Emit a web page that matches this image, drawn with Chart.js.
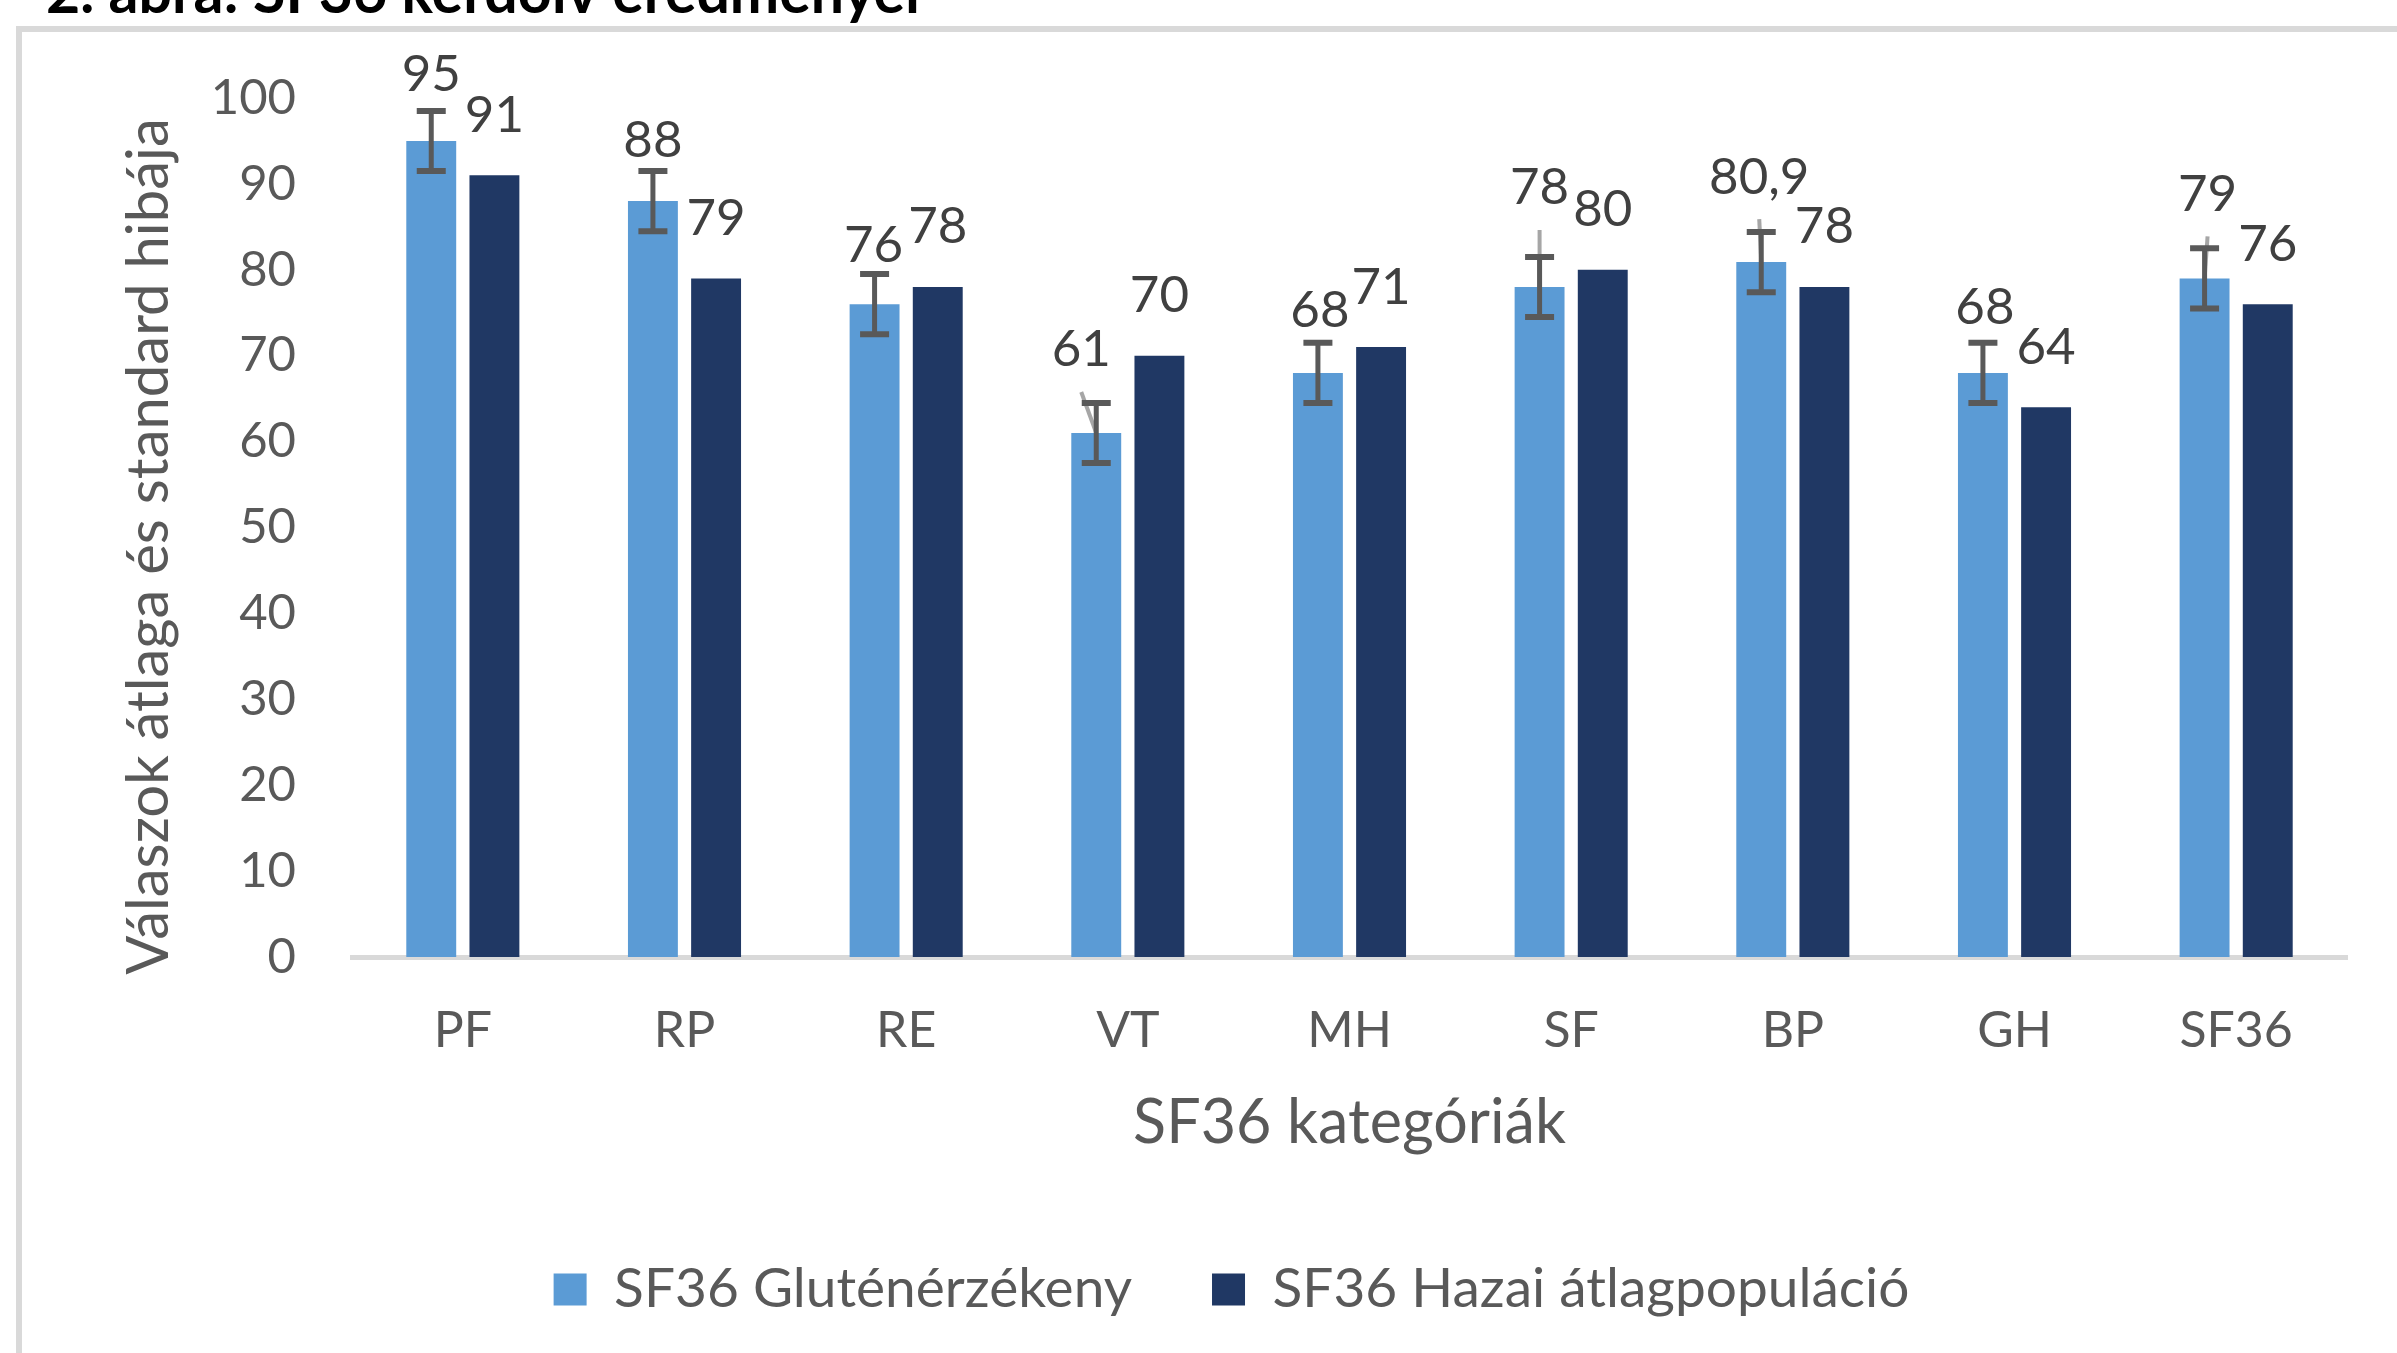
<!DOCTYPE html>
<html>
<head>
<meta charset="utf-8">
<script src="https://cdn.jsdelivr.net/npm/chart.js@4.4.0/dist/chart.umd.min.js"></script>
<style>
  html, body { margin: 0; padding: 0; background: #fff; overflow: hidden; }
  #frame { position: absolute; left: 16px; top: 26px; width: 2600px; height: 1600px;
           border-left: 6px solid #d9d9d9; border-top: 6px solid #d9d9d9; }
  #wrap { position: absolute; left: 0; top: 0; width: 2397px; height: 1353px; }
</style>
</head>
<body>
<div id="frame"></div>
<div id="wrap"><canvas id="chart" width="2397" height="1353"></canvas></div>
<script>
const categories = ['PF', 'RP', 'RE', 'VT', 'MH', 'SF', 'BP', 'GH', 'SF36'];
const seriesNames = ['SF36 Gluténérzékeny', 'SF36 Hazai átlagpopuláció'];
const glutenValues = [95, 88, 76, 61, 68, 78, 80.9, 68, 79];
const glutenErrors = [3.5, 3.5, 3.5, 3.5, 3.5, 3.5, 3.5, 3.5, 3.5];
const hazaiValues = [91, 79, 78, 70, 71, 80, 78, 64, 76];
const figureTitle = '2. ábra: SF36 kérdőív eredményei';
const yTitle = 'Válaszok átlaga és standard hibája';
const xTitle = 'SF36 kategóriák';

// hand-moved labels of the first series: [dx, dy from bar top, leader line]
const glutenLabelPos = [[0, -66], [0, -61], [-1, -59], [-15, -83, true], [2, -62],
                        [0, -99, true], [-2, -85, true], [2, -65], [3, -84, true]];

const fmt = v => String(v).replace('.', ',');

const extras = {
  id: 'extras',
  afterDatasetsDraw(chart) {
    const { ctx, scales: { y } } = chart;
    const barsA = chart.getDatasetMeta(0).data;
    const barsB = chart.getDatasetMeta(1).data;
    ctx.save();

    // leader lines
    ctx.strokeStyle = '#a6a6a6';
    ctx.lineWidth = 4;
    barsA.forEach((bar, i) => {
      const [dx, dy, lead] = glutenLabelPos[i];
      if (!lead) return;
      ctx.beginPath();
      ctx.moveTo(bar.x + dx, bar.y + dy + 42);
      ctx.lineTo(bar.x, bar.y);
      ctx.stroke();
    });

    // error bars
    ctx.strokeStyle = '#595959';
    barsA.forEach((bar, i) => {
      const top = y.getPixelForValue(glutenValues[i] + glutenErrors[i]);
      const bot = y.getPixelForValue(glutenValues[i] - glutenErrors[i]);
      ctx.lineWidth = 5;
      ctx.beginPath();
      ctx.moveTo(bar.x, top);
      ctx.lineTo(bar.x, bot);
      ctx.stroke();
      ctx.lineWidth = 6;
      ctx.beginPath();
      ctx.moveTo(bar.x - 14.5, top); ctx.lineTo(bar.x + 14.5, top);
      ctx.moveTo(bar.x - 14.5, bot); ctx.lineTo(bar.x + 14.5, bot);
      ctx.stroke();
    });

    // data labels
    ctx.font = '51px Lato';
    ctx.fillStyle = '#404040';
    ctx.textAlign = 'center';
    ctx.textBaseline = 'middle';
    barsA.forEach((bar, i) => {
      const [dx, dy] = glutenLabelPos[i];
      ctx.fillText(fmt(glutenValues[i]), bar.x + dx, bar.y + dy);
    });
    barsB.forEach((bar, i) => {
      ctx.fillText(fmt(hazaiValues[i]), bar.x, bar.y - 60);
    });
    ctx.restore();
  },
  afterDraw(chart) {
    const { ctx, chartArea } = chart;
    ctx.save();
    ctx.font = 'bold 59px Lato';
    ctx.fillStyle = '#000';
    ctx.textAlign = 'left';
    ctx.textBaseline = 'alphabetic';
    ctx.fillText(figureTitle, 46, 13);

    // y axis title, sits a little below the plot centre as in the original
    ctx.translate(149, (chartArea.top + chartArea.bottom) / 2 + 19);
    ctx.rotate(-Math.PI / 2);
    ctx.font = '58px Lato';
    ctx.fillStyle = '#595959';
    ctx.textAlign = 'center';
    ctx.textBaseline = 'middle';
    ctx.fillText(yTitle, 0, 0);
    ctx.restore();
  }
};

new Chart(document.getElementById('chart'), {
  type: 'bar',
  data: {
    labels: categories,
    datasets: [{
      label: seriesNames[0],
      data: glutenValues,
      backgroundColor: '#5b9bd5',
      categoryPercentage: 0.57,
      barPercentage: 0.79
    }, {
      label: seriesNames[1],
      data: hazaiValues,
      backgroundColor: '#203864',
      categoryPercentage: 0.57,
      barPercentage: 0.79
    }]
  },
  options: {
    responsive: false,
    animation: false,
    layout: { padding: { left: 116, right: 50, top: 98, bottom: 26 } },
    plugins: {
      tooltip: { enabled: false },
      legend: {
        position: 'bottom',
        labels: {
          font: { family: 'Lato', size: 55 },
          color: '#595959',
          boxWidth: 33,
          boxHeight: 32,
          padding: 80
        }
      }
    },
    scales: {
      x: {
        afterFit(scale) { scale.height = 225; },
        grid: { display: false },
        border: { color: '#d9d9d9', width: 5 },
        ticks: { font: { family: 'Lato', size: 50 }, color: '#595959', padding: 36 },
        title: {
          display: true,
          text: xTitle,
          font: { family: 'Lato', size: 61 },
          color: '#595959',
          padding: { top: 0, bottom: 22 }
        }
      },
      y: {
        min: 0,
        max: 100,
        afterFit(scale) { scale.width = 236; },
        grid: { display: false },
        border: { display: false },
        ticks: { stepSize: 10, font: { family: 'Lato', size: 49 }, color: '#595959', padding: 48 }
      }
    }
  },
  plugins: [extras]
});
</script>
</body>
</html>
